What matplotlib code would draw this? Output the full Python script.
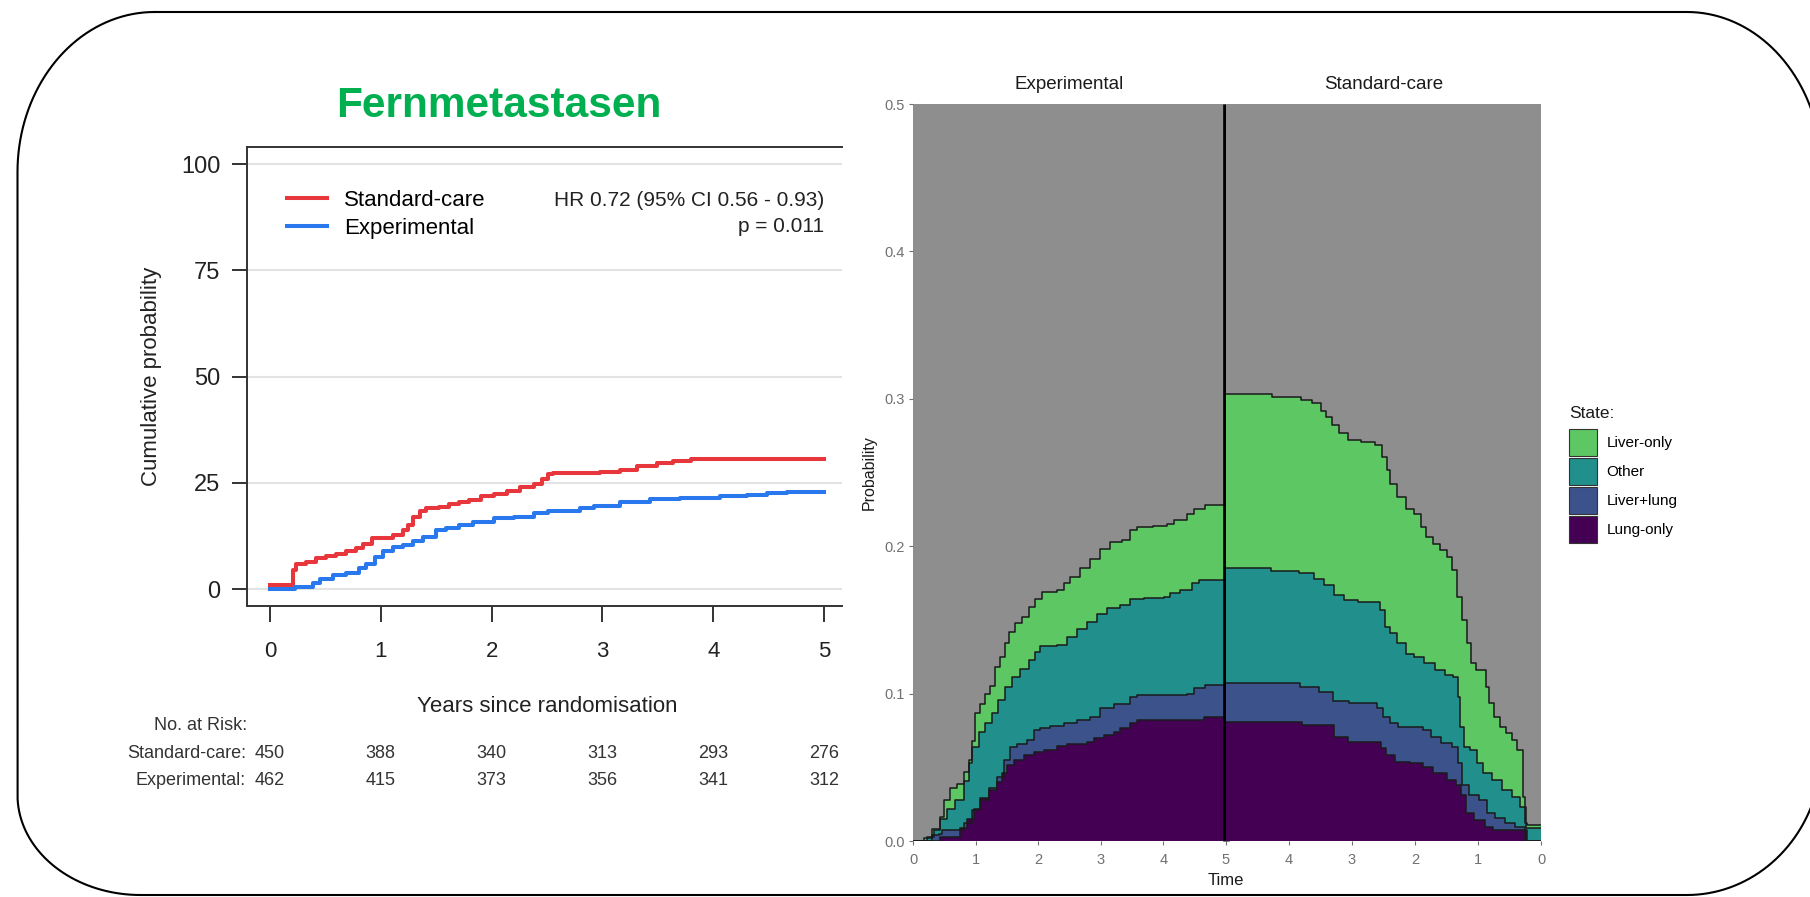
import numpy as np
import matplotlib.pyplot as plt
from matplotlib.lines import Line2D
from matplotlib.patches import Patch
from matplotlib.transforms import IdentityTransform, blended_transform_factory

plt.rcParams['font.family'] = ['Liberation Sans', 'DejaVu Sans']

W, H = 1810, 897

# --- Kaplan-Meier: cumulative probability of distant metastasis (%) ---
std_km = [(0, 1.0), (0.21, 4.5), (0.24, 6.0), (0.33, 6.4), (0.42, 7.2), (0.51, 7.75),
          (0.60, 8.15), (0.69, 9.0), (0.78, 9.55), (0.84, 10.7), (0.92, 11.9), (1.11, 12.7),
          (1.20, 13.9), (1.25, 15.0), (1.29, 17.0), (1.35, 18.3), (1.41, 19.0), (1.53, 19.3),
          (1.62, 19.9), (1.71, 20.5), (1.80, 20.9), (1.90, 21.9), (2.02, 22.3), (2.14, 23.0),
          (2.26, 23.9), (2.38, 24.8), (2.45, 26.0), (2.51, 27.0), (2.55, 27.2), (2.98, 27.6),
          (3.16, 28.1), (3.31, 28.9), (3.49, 29.7), (3.64, 30.1), (3.80, 30.5), (5.0, 30.5)]
exp_km = [(0, 0.0), (0.23, 0.4), (0.39, 1.3), (0.45, 2.3), (0.57, 3.3), (0.69, 3.8),
          (0.80, 4.9), (0.87, 6.0), (0.95, 7.6), (1.02, 9.0), (1.11, 9.9), (1.20, 10.3),
          (1.29, 11.3), (1.38, 12.3), (1.50, 13.9), (1.59, 14.4), (1.71, 15.0), (1.83, 15.8),
          (2.02, 16.6), (2.20, 17.0), (2.38, 17.8), (2.51, 18.4), (2.80, 19.0), (2.92, 19.5),
          (3.16, 20.5), (3.43, 21.1), (3.70, 21.5), (4.06, 21.9), (4.30, 22.2), (4.48, 22.5),
          (4.66, 22.9), (5.0, 22.9)]

risk_years = [0, 1, 2, 3, 4, 5]
risk_std = [450, 388, 340, 313, 293, 276]
risk_exp = [462, 415, 373, 356, 341, 312]

# --- state occupation, stacked upper edges (Lung-only at the bottom) ---
states = ['Liver-only', 'Other', 'Liver+lung', 'Lung-only']
state_colors = ['#5DC863', '#21908C', '#3B528B', '#440154']

exp_liver_only = [(0, 0), (0.17, 0.002), (0.30, 0.008), (0.43, 0.0165), (0.49, 0.028),
                  (0.59, 0.036), (0.70, 0.039), (0.81, 0.047), (0.89, 0.055), (0.94, 0.068),
                  (0.99, 0.087), (1.07, 0.093), (1.15, 0.100), (1.23, 0.105), (1.31, 0.118),
                  (1.39, 0.125), (1.47, 0.134), (1.53, 0.142), (1.63, 0.1476), (1.74, 0.152),
                  (1.85, 0.159), (1.95, 0.1645), (2.06, 0.169), (2.30, 0.170), (2.41, 0.1747),
                  (2.51, 0.179), (2.67, 0.185), (2.83, 0.1916), (2.99, 0.198), (3.15, 0.203),
                  (3.34, 0.204), (3.47, 0.211), (3.58, 0.213), (3.84, 0.214), (4.06, 0.2154),
                  (4.17, 0.218), (4.38, 0.222), (4.49, 0.225), (4.67, 0.228), (5.0, 0.228)]
exp_other = [(0, 0), (0.22, 0.003), (0.33, 0.0075), (0.43, 0.015), (0.54, 0.022),
             (0.67, 0.028), (0.81, 0.041), (0.89, 0.053), (0.94, 0.064), (1.05, 0.074),
             (1.15, 0.080), (1.26, 0.0866), (1.36, 0.0956), (1.47, 0.1046), (1.58, 0.111),
             (1.71, 0.117), (1.85, 0.1227), (1.95, 0.128), (2.03, 0.132), (2.30, 0.133),
             (2.46, 0.1385), (2.62, 0.144), (2.78, 0.1487), (2.94, 0.154), (3.10, 0.158),
             (3.31, 0.160), (3.47, 0.1645), (3.69, 0.165), (4.01, 0.1656), (4.11, 0.168),
             (4.27, 0.170), (4.46, 0.1747), (4.57, 0.1774), (5.0, 0.1774)]
exp_liver_lung = [(0, 0), (0.30, 0.004), (0.41, 0.005), (0.46, 0.0075), (0.81, 0.012),
                  (0.94, 0.021), (1.07, 0.028), (1.21, 0.0357), (1.34, 0.0436), (1.45, 0.055),
                  (1.55, 0.064), (1.66, 0.066), (1.82, 0.0685), (1.93, 0.075), (2.03, 0.0764),
                  (2.19, 0.078), (2.41, 0.080), (2.62, 0.082), (2.83, 0.084), (2.99, 0.090),
                  (3.21, 0.093), (3.47, 0.098), (3.58, 0.099), (4.38, 0.100), (4.49, 0.1035),
                  (4.67, 0.1058), (5.0, 0.1058)]
exp_lung_only = [(0, 0), (0.43, 0.003), (0.75, 0.0086), (0.86, 0.015), (0.97, 0.022),
                 (1.07, 0.029), (1.21, 0.0346), (1.34, 0.040), (1.42, 0.046), (1.50, 0.0515),
                 (1.61, 0.055), (1.77, 0.0583), (1.93, 0.0606), (2.09, 0.0617), (2.30, 0.0644),
                 (2.46, 0.066), (2.78, 0.0673), (2.89, 0.0696), (3.05, 0.0719), (3.21, 0.074),
                 (3.31, 0.0764), (3.47, 0.080), (3.58, 0.082), (4.65, 0.0838), (5.0, 0.0838)]

std_liver_only = [(0, 0.011), (0.22, 0.012), (0.25, 0.030), (0.28, 0.0617), (0.38, 0.0685),
                  (0.46, 0.073), (0.55, 0.0775), (0.65, 0.0843), (0.74, 0.0933), (0.82, 0.1046),
                  (0.88, 0.116), (1.03, 0.1205), (1.11, 0.134), (1.18, 0.150), (1.25, 0.1656),
                  (1.33, 0.1837), (1.41, 0.1928), (1.50, 0.1973), (1.60, 0.2018), (1.71, 0.2063),
                  (1.82, 0.213), (1.91, 0.222), (2.02, 0.2255), (2.15, 0.2334), (2.28, 0.2425),
                  (2.39, 0.2515), (2.45, 0.2606), (2.52, 0.2685), (2.64, 0.2707), (2.86, 0.272),
                  (3.07, 0.277), (3.20, 0.282), (3.31, 0.2877), (3.42, 0.292), (3.50, 0.297),
                  (3.64, 0.2994), (3.81, 0.301), (4.27, 0.303), (5.0, 0.303)]
std_other = [(0, 0.0086), (0.24, 0.0233), (0.33, 0.030), (0.46, 0.0346), (0.62, 0.0414),
             (0.78, 0.0459), (0.92, 0.0527), (1.02, 0.0617), (1.12, 0.064), (1.22, 0.0775),
             (1.28, 0.098), (1.32, 0.1114), (1.40, 0.1125), (1.53, 0.116), (1.69, 0.1205),
             (1.85, 0.125), (2.01, 0.1272), (2.15, 0.134), (2.28, 0.1408), (2.40, 0.1453),
             (2.48, 0.1566), (2.55, 0.1623), (2.90, 0.1634), (3.13, 0.1668), (3.28, 0.1736),
             (3.44, 0.178), (3.60, 0.1815), (3.84, 0.183), (4.28, 0.1849), (5.0, 0.1849)]
std_liver_lung = [(0, 0), (0.25, 0.0097), (0.41, 0.012), (0.57, 0.0154), (0.73, 0.0188),
                  (0.86, 0.0278), (0.99, 0.0312), (1.14, 0.038), (1.25, 0.0527), (1.31, 0.064),
                  (1.42, 0.0662), (1.58, 0.0707), (1.74, 0.0753), (1.88, 0.0775), (2.27, 0.0798),
                  (2.39, 0.0843), (2.51, 0.090), (2.60, 0.0933), (3.05, 0.0951), (3.30, 0.1012),
                  (3.53, 0.1046), (3.83, 0.1073), (5.0, 0.1073)]
std_lung_only = [(0, 0), (0.22, 0.0075), (0.76, 0.0097), (0.89, 0.0142), (1.06, 0.0188),
                 (1.19, 0.0312), (1.27, 0.038), (1.35, 0.0414), (1.50, 0.0459), (1.72, 0.0504),
                 (1.88, 0.0527), (2.08, 0.0538), (2.32, 0.0583), (2.46, 0.0628), (2.54, 0.0673),
                 (3.07, 0.0707), (3.28, 0.0786), (3.80, 0.0809), (5.0, 0.0809)]

arms = {
    'Experimental': [exp_liver_only, exp_other, exp_liver_lung, exp_lung_only],
    'Standard-care': [std_liver_only, std_other, std_liver_lung, std_lung_only],
}


def fx(x):
    return x / W


def fy(y):
    return 1 - y / H


def rounded_frame(left, right, top, bottom, corners):
    """Outline with elliptical corners, in pixel coords (y down)."""
    (tl, bl, br, tr) = corners
    xs, ys = [], []
    for (cx, cy, rx, ry), a0 in [((left + tl[0], top + tl[1]) + tl, 90),
                                 ((left + bl[0], bottom - bl[1]) + bl, 180),
                                 ((right - br[0], bottom - br[1]) + br, 270),
                                 ((right - tr[0], top + tr[1]) + tr, 0)]:
        a = np.radians(np.linspace(a0, a0 + 90, 40))
        xs.extend(cx + rx * np.cos(a))
        ys.extend(cy - ry * np.sin(a))
    xs.append(xs[0])
    ys.append(ys[0])
    return np.array(xs), H - np.array(ys)


fig = plt.figure(figsize=(W / 100, H / 100), dpi=100)

# rounded frame around the slide
fx_, fy_ = rounded_frame(17.5, 1822, 12, 895,
                         [(137, 160), (123, 100), (135, 145), (135, 160)])
fig.add_artist(Line2D(fx_, fy_, transform=IdentityTransform(), color='black', lw=1.5))

fig.text(fx(499), fy(117), 'Fernmetastasen', color='#00B050', fontsize=30.5,
         fontweight='bold', ha='center', va='baseline')

# ---------------- left: cumulative incidence ----------------
ax = fig.add_axes([fx(247), fy(606), (842 - 247) / W, (606 - 147) / H])
red, blue = '#E8373C', '#2A78EE'
t, y = np.array(std_km).T
ax.step(t, y, where='post', color=red, lw=2.9, label='Standard-care', zorder=3)
t, y = np.array(exp_km).T
ax.step(t, y, where='post', color=blue, lw=2.9, label='Experimental', zorder=3)

ax.set_xlim(-0.206, 5.16)
ax.set_ylim(-4, 104)
ax.set_yticks([0, 25, 50, 75, 100])
ax.set_xticks(range(6))
ax.yaxis.grid(True, color='#e3e3e3', lw=1.5)
ax.spines['right'].set_visible(False)
for s in ['left', 'top', 'bottom']:
    ax.spines[s].set_color('#333333')
    ax.spines[s].set_linewidth(1.4)
ax.tick_params(axis='y', length=11, width=1.4, color='#333333', pad=8,
               labelsize=17, labelcolor='#222222')
ax.tick_params(axis='x', length=11.5, width=1.4, color='#333333', pad=14,
               labelsize=16, labelcolor='#222222')
ax.set_ylabel('Cumulative probability', fontsize=16, color='#222222')
ax.yaxis.set_label_coords((162 - 247) / 595, 0.5)

ax.legend(loc='upper left', bbox_to_anchor=((287 - 247) / 595, (606 - 190) / 459),
          frameon=False, fontsize=16, handlelength=1.8, handletextpad=0.75,
          borderpad=0, borderaxespad=0, labelspacing=0.3)
ax.text(5, 91.4, 'HR 0.72 (95% CI 0.56 - 0.93)', ha='right', va='center',
        fontsize=15, color='#222222')
ax.text(5, 85.3, 'p = 0.011', ha='right', va='center', fontsize=15, color='#222222')

tr = blended_transform_factory(ax.transData, fig.transFigure)
fig.text(2.5, fy(707), 'Years since randomisation', transform=tr, ha='center',
         va='center', fontsize=16, color='#222222')
fig.text(fx(247), fy(725), 'No. at Risk:', ha='right', va='center', fontsize=13,
         color='#333333')
fig.text(fx(246), fy(753), 'Standard-care:', ha='right', va='center', fontsize=13,
         color='#333333')
fig.text(fx(246), fy(780), 'Experimental:', ha='right', va='center', fontsize=13,
         color='#333333')
for yr, ns, ne in zip(risk_years, risk_std, risk_exp):
    fig.text(yr, fy(753), str(ns), transform=tr, ha='center', va='center',
             fontsize=13, color='#333333')
    fig.text(yr, fy(780), str(ne), transform=tr, ha='center', va='center',
             fontsize=13, color='#333333')

# ---------------- right: stacked state probabilities ----------------
panel_bg = '#8E8E8E'
tick_grey = '#707070'
bottom, top = fy(841), fy(104)
ax_e = fig.add_axes([fx(913), bottom, (1226 - 913) / W, top - bottom])
ax_s = fig.add_axes([fx(1226), bottom, (1541 - 1226) / W, top - bottom])

for a, (arm, curves) in zip([ax_e, ax_s], arms.items()):
    a.set_facecolor(panel_bg)
    for curve, col in zip(curves, state_colors):
        t, y = np.array(curve).T
        a.fill_between(t, 0, y, step='post', color=col, lw=0)
        a.step(t, y, where='post', color='#1a1a1a', lw=1.1)
    a.set_xlim(0, 5)
    a.set_ylim(0, 0.5)
    for s in a.spines.values():
        s.set_visible(False)
    a.set_title(arm, fontsize=13.5, color='#1a1a1a', pad=11)
    a.tick_params(length=3, width=0.8, color=tick_grey, labelcolor=tick_grey,
                  labelsize=10.5, pad=3)
    a.tick_params(axis='x', pad=5.5)

ax_s.invert_xaxis()
ax_e.set_xticks(range(6))
ax_s.set_xticks(range(5))
ax_s.set_yticks([])
ax_e.set_yticks([0, 0.1, 0.2, 0.3, 0.4, 0.5])
ax_e.set_yticklabels(['0.0', '0.1', '0.2', '0.3', '0.4', '0.5'])
ax_e.set_ylabel('Probability', fontsize=11.5, color='#1a1a1a')
ax_e.yaxis.set_label_coords((877 - 913) / 313, 0.5)
ax_e.axvline(5, color='black', lw=4.8, clip_on=False, zorder=5, solid_capstyle='butt')
fig.text(fx(1226), fy(880), 'Time', ha='center', va='center', fontsize=12,
         color='#1a1a1a')

# state legend: title set apart from the keys
fig.text(fx(1569), fy(413), 'State:', ha='left', va='center', fontsize=12.5,
         color='#1a1a1a')
handles = [Patch(facecolor=c, edgecolor='#333333', lw=0.8) for c in state_colors]
fig.legend(handles, states, loc='upper left', bbox_to_anchor=(fx(1569), fy(429)),
           frameon=False, fontsize=11, handlelength=1.85, handleheight=2.35,
           handletextpad=0.6, labelspacing=0.12, borderpad=0, borderaxespad=0)

fig.savefig('out.png', dpi=100)
